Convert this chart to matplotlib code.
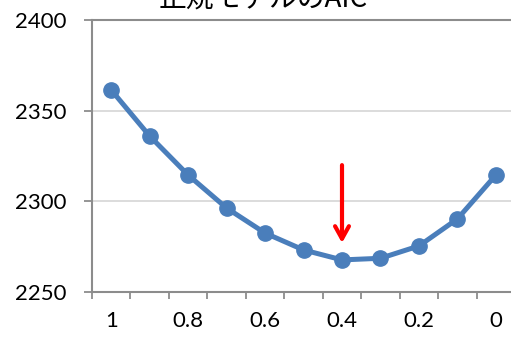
import matplotlib
matplotlib.use("Agg")
import matplotlib.pyplot as plt

# data
categories = ['1', '0.9', '0.8', '0.7', '0.6', '0.5', '0.4', '0.3', '0.2', '0.1', '0']
aic = [2361.4, 2336.0, 2314.5, 2296.3, 2282.5, 2273.2, 2267.7, 2268.6, 2275.4, 2290.3, 2314.5]
shown_labels = ['1', '0.8', '0.6', '0.4', '0.2', '0']
y_ticks = [2250, 2300, 2350, 2400]
title = '正規モデルのAIC'
arrow_at = '0.4'
arrow_from, arrow_to = 2321.5, 2275.5

plt.rcParams['font.family'] = ['Lato', 'DejaVu Sans']

fig = plt.figure(figsize=(5.11, 3.37), dpi=100)
ax = fig.add_axes([0.180, 0.1335, 0.828, 0.8072])

x = list(range(len(categories)))
ax.plot(x, aic, color='#4a7ebb', lw=3.6, marker='o', markersize=11,
        solid_capstyle='round', zorder=3, clip_on=False)

ax.set_xlim(-0.5, len(categories) - 0.5)
ax.set_ylim(y_ticks[0], y_ticks[-1])

# grid lines
for yv in y_ticks[1:-1]:
    ax.axhline(yv, color='#d9d9d9', lw=1.3, zorder=1)
ax.axhline(y_ticks[-1], color='#8c8c8c', lw=1.5, zorder=1, clip_on=False)

# x axis: tick marks between categories, labels every other category
ax.set_xticks([i - 0.5 for i in range(len(categories) + 1)])
ax.set_xticklabels([])
ax.set_xticks([categories.index(c) for c in shown_labels], minor=True)
ax.set_xticklabels(shown_labels, minor=True)
ax.tick_params(axis='x', which='major', length=5, width=1.3, color='#8c8c8c', direction='out')
ax.tick_params(axis='x', which='minor', length=0, pad=14, labelsize=16)

ax.set_yticks(y_ticks)
ax.tick_params(axis='y', length=6, width=1.3, color='#8c8c8c', pad=12, labelsize=16)

for s in ['top', 'right']:
    ax.spines[s].set_visible(False)
for s in ['left', 'bottom']:
    ax.spines[s].set_color('#8c8c8c')
    ax.spines[s].set_linewidth(1.5)

# red arrow pointing to the minimum
xi = categories.index(arrow_at)
ax.annotate('', xy=(xi, arrow_to), xytext=(xi, arrow_from),
            arrowprops=dict(arrowstyle='->,head_length=0.9,head_width=0.5',
                            color='#ff0000', lw=3), zorder=4)

fig.text(0.515, 1.0, title, ha='center', va='center', fontsize=20,
         family=['Noto Sans CJK JP', 'DejaVu Sans'])

fig.savefig('out.png', dpi=100)
